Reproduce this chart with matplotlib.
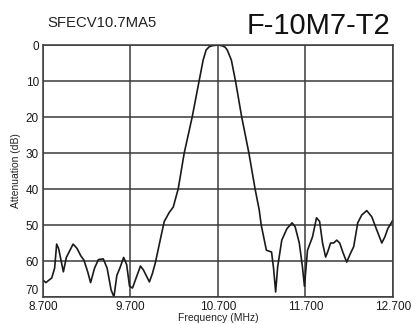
import numpy as np
import matplotlib
matplotlib.use("Agg")
import matplotlib.pyplot as plt

plt.rcParams['font.family'] = ['Liberation Sans', 'DejaVu Sans']

# frequency response
freq = [8.700, 8.733, 8.800, 8.833, 8.856, 8.878, 8.933, 8.967, 9.044, 9.089,
        9.133, 9.167, 9.211, 9.244, 9.289, 9.333, 9.389, 9.433, 9.478, 9.511,
        9.544, 9.578, 9.622, 9.656, 9.689, 9.723, 9.745, 9.814, 9.848, 9.916,
        9.950, 9.984, 10.041, 10.086, 10.143, 10.189, 10.211, 10.245, 10.314, 10.405,
        10.484, 10.530, 10.564, 10.598, 10.632, 10.700, 10.747, 10.782, 10.806, 10.853,
        10.900, 10.971, 11.053, 11.124, 11.171, 11.194, 11.253, 11.276, 11.312, 11.335,
        11.359, 11.382, 11.429, 11.488, 11.547, 11.582, 11.629, 11.665, 11.688, 11.723,
        11.780, 11.826, 11.861, 11.895, 11.930, 11.953, 11.987, 12.022, 12.057, 12.091,
        12.126, 12.171, 12.206, 12.251, 12.297, 12.343, 12.400, 12.457, 12.515, 12.572,
        12.607, 12.641, 12.700]
atten = [65.3, 66.0, 64.7, 62.0, 55.3, 56.5, 63.0, 59.0, 55.3, 56.5,
         58.6, 59.7, 63.0, 66.0, 62.0, 59.6, 59.4, 62.0, 68.0, 70.0,
         64.0, 62.0, 59.0, 61.0, 67.0, 67.5, 66.0, 61.4, 62.5, 65.8,
         63.5, 60.5, 54.0, 49.0, 46.5, 45.0, 43.0, 40.0, 30.0, 20.0,
         10.0, 4.2, 1.4, 0.5, 0.2, 0.0, 0.2, 0.6, 1.4, 4.2,
         10.0, 20.0, 30.0, 40.0, 45.8, 50.0, 57.0, 57.2, 57.5, 62.0,
         68.6, 61.6, 54.2, 51.0, 49.4, 50.5, 55.0, 61.6, 67.0, 57.0,
         53.3, 48.0, 49.0, 55.0, 58.9, 57.5, 55.0, 55.0, 54.2, 55.0,
         57.5, 60.3, 58.3, 56.0, 49.4, 47.2, 46.0, 47.7, 51.4, 55.0,
         53.3, 51.0, 48.6]

x_ticks = [8.7, 9.7, 10.7, 11.7, 12.7]
x_labels = ['8.700', '9.700', '10.700', '11.700', '12.700']
y_ticks = [0, 10, 20, 30, 40, 50, 60, 70]

fig = plt.figure(figsize=(4.11, 3.24), dpi=100)
ax = fig.add_axes([0.1046, 0.0833, 0.8516, 0.7777])

ax.plot(freq, atten, color='#1a1a1a', lw=1.2)

ax.set_xlim(8.7, 12.7)
ax.set_ylim(70, 0)
ax.set_xticks(x_ticks)
ax.set_xticklabels(x_labels)
ax.set_yticks(y_ticks)
ax.grid(True, color='#3a3a3a', lw=1.1)
for s in ax.spines.values():
    s.set_color('#3a3a3a')
    s.set_linewidth(1.1)
ax.tick_params(length=0, labelsize=8.5, colors='#1a1a1a')
ax.tick_params(axis='x', pad=3)
ax.tick_params(axis='y', pad=3)
# bottom y label sits just above the corner, as in the original
ax.get_yticklabels()[-1].set_va('bottom')

ax.set_xlabel('Frequency (MHz)', fontsize=7.5, labelpad=0, color='#222222')
ax.set_ylabel('Attenuation (dB)', fontsize=7.5, labelpad=3, color='#222222')

fig.text(0.115, 0.93, 'SFECV10.7MA5', fontsize=10.7, va='center', color='#222222')
fig.text(0.95, 0.92, 'F-10M7-T2', fontsize=21, va='center', ha='right', color='#111111')

fig.savefig('out.png', dpi=100)
